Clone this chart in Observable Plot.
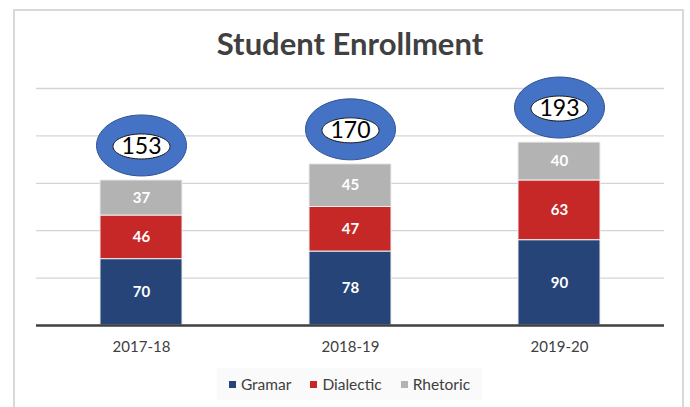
<!DOCTYPE html>
<html><head><meta charset="utf-8">
<script src="https://cdn.jsdelivr.net/npm/d3@7"></script>
<script src="https://cdn.jsdelivr.net/npm/@observablehq/plot@0.6"></script>
<style>
html,body{margin:0;padding:0;background:#fff;width:690px;height:407px;overflow:hidden;font-family:Lato,"Open Sans",sans-serif;}
#frame{position:absolute;left:13px;top:9px;width:671px;height:430px;border:2px solid #d9d9d9;box-sizing:border-box;}
#title{position:absolute;left:0;width:700px;top:25px;text-align:center;font-weight:700;font-size:31px;line-height:36px;color:#404040;}
#chart{position:absolute;left:0;top:60px;}
#legend{position:absolute;left:217px;top:368px;width:265px;height:32px;background:#fafafa;display:flex;align-items:center;justify-content:center;gap:19px;font-size:15.5px;color:#404040;}
#legend .item{display:flex;align-items:center;gap:5px;}
#legend .sw{width:7px;height:7px;display:inline-block;}
</style>
</head><body>
<div id="frame"></div>
<div id="title">Student Enrollment</div>
<div id="chart"></div>
<div id="legend"></div>
<script>
const years = ["2017-18", "2018-19", "2019-20"];
const seriesNames = ["Gramar", "Dialectic", "Rhetoric"];
const gramar = [70, 78, 90];
const dialectic = [46, 47, 63];
const rhetoric = [37, 45, 40];
const totals = [153, 170, 193];
const seriesColors = ["#264478", "#C62828", "#B3B3B3"];
const gridTicks = [50, 100, 150, 200, 250];

const seriesValues = [gramar, dialectic, rhetoric];
const rows = [];
seriesNames.forEach((s, i) => years.forEach((y, j) => rows.push({series: s, year: y, value: seriesValues[i][j]})));
const totalRows = years.map((y, j) => ({year: y, total: totals[j]}));

function ellipseSymbol(rx, ry) {
  const k = 0.5522848;
  return {draw(ctx) {
    ctx.moveTo(rx, 0);
    ctx.bezierCurveTo(rx, ry * k, rx * k, ry, 0, ry);
    ctx.bezierCurveTo(-rx * k, ry, -rx, ry * k, -rx, 0);
    ctx.bezierCurveTo(-rx, -ry * k, -rx * k, -ry, 0, -ry);
    ctx.bezierCurveTo(rx * k, -ry, rx, -ry * k, rx, 0);
    ctx.closePath();
  }};
}

const chart = Plot.plot({
  width: 690, height: 300,
  marginLeft: 36, marginRight: 26, marginTop: 28, marginBottom: 35,
  x: {domain: years, paddingInner: 0.61, paddingOuter: 0.305, label: null, tickSize: 0, tickPadding: 16},
  y: {domain: [0, 250], axis: null},
  color: {domain: seriesNames, range: seriesColors},
  style: {fontFamily: "Lato, 'Open Sans', sans-serif", fontSize: "15px", color: "#404040", background: "transparent", overflow: "visible"},
  marks: [
    Plot.ruleY(gridTicks, {stroke: "#d4d4d4", strokeWidth: 1.3}),
    Plot.barY(rows, {x: "year", y: "value", z: "series", fill: "series", stroke: "#eeeeee", strokeWidth: 1}),
    Plot.text(rows, Plot.stackY({x: "year", y: "value", z: "series", text: d => String(d.value), fill: "white", fontWeight: "bold", fontSize: 15})),
    Plot.ruleY([0], {stroke: "#404040", strokeWidth: 2.5}),
    Plot.dot(totalRows, {x: "year", y: "total", dy: -35, symbol: ellipseSymbol(45, 30.5), r: 10, fill: "#4472C4", stroke: "#2F528F", strokeWidth: 1}),
    Plot.dot(totalRows, {x: "year", y: "total", dy: -34, symbol: ellipseSymbol(28.5, 12.5), r: 10, fill: "white", stroke: "#1a1a1a", strokeWidth: 1}),
    Plot.text(totalRows, {x: "year", y: "total", dy: -34, text: d => String(d.total), fontSize: 23, fill: "black"})
  ]
});
document.getElementById("chart").appendChild(chart);

const legend = document.getElementById("legend");
seriesNames.forEach((s, i) => {
  const item = document.createElement("div");
  item.className = "item";
  const sw = document.createElement("span");
  sw.className = "sw";
  sw.style.background = seriesColors[i];
  const t = document.createElement("span");
  t.textContent = s;
  item.appendChild(sw); item.appendChild(t);
  legend.appendChild(item);
});
</script>
</body></html>
